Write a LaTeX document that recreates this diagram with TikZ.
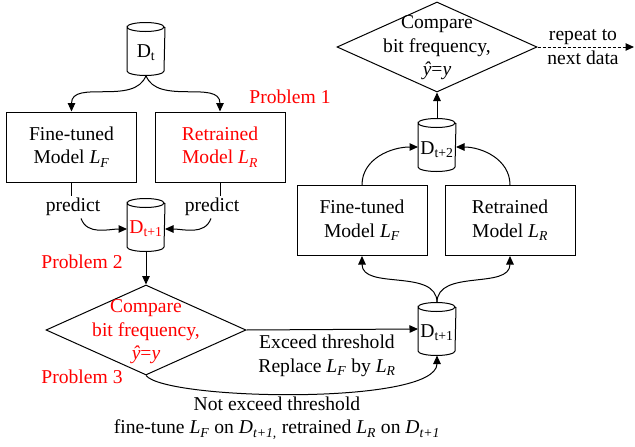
\documentclass[tikz,border=0pt]{standalone}
\usepackage{fontspec}
\setmainfont{Liberation Serif}
\usetikzlibrary{shapes.geometric,arrows.meta,calc}
\newcommand\myL[1]{\textit{L}\textsubscript{\textit{#1}}}
\newcommand\myD[1]{D\textsubscript{#1}}
\newcommand\myDi[1]{\textit{D}\textsubscript{\textit{#1}}}
\newcommand\cylout[1]{\draw ([yshift=-4.5pt]#1.north west) arc[start angle=180,end angle=0,x radius=18.5pt,y radius=4.5pt] arc[start angle=0,end angle=-180,x radius=18.5pt,y radius=4.5pt] -- ([yshift=4.5pt]#1.south west) arc[start angle=180,end angle=360,x radius=18.5pt,y radius=4.5pt] -- ([yshift=-4.5pt]#1.north east);}
\begin{document}
\begin{tikzpicture}[x=1pt,y=1pt,line width=1pt,
  font=\fontsize{19.6}{23.5}\selectfont,
  every node/.style={inner sep=2pt},
  box/.style={draw, rectangle, minimum width=130pt, minimum height=70pt, align=center, inner sep=0pt},
  cyl/.style={rectangle, minimum width=37pt, minimum height=52pt, inner sep=0pt},
  dia/.style={draw, diamond, minimum width=200pt, minimum height=90pt, inner sep=0pt},
  arr/.style={-{Triangle[length=8.5pt,width=7.5pt]}}]
\useasboundingbox (0,0) rectangle (635,-447);
% left part
\node[cyl] (dt) at (146,-49) {};
\node (dtT) at (146,-53) {\myD{t}};
\node[box] (lf1) at (71.5,-147) {Fine-tuned\\Model \myL{F}};
\node[box, text=red] (lr1) at (220,-147) {Retrained\\Model \myL{R}};
\node[text=red] (p1) at (290,-97) {Problem 1};
\node[cyl] (da) at (146,-225) {};
\node[text=red] (daT) at (146,-229) {\myD{t+1}};
\node (pl) at (73,-207) {predict};
\node (pr) at (212,-207) {predict};
\node[text=red] (p2) at (82,-262) {Problem 2};
\node[dia] (d1) at (146,-330) {};
\node[text=red, align=center] (d1T) at (146,-332) {Compare\\bit frequency,\\\textit{ŷ}=\textit{y}};
\node[text=red] (p3) at (82,-377) {Problem 3};
\node[cyl] (db) at (437,-329) {};
\node (dbT) at (437,-333) {\myD{t+1}};
\node[align=center] (ex) at (327,-356) {Exceed threshold\\Replace \myL{F} by \myL{R}};
\node[align=center] (nx) at (277,-418) {Not exceed threshold\\fine-tune \myL{F} on \myDi{t+1,} retrained \myL{R} on \myDi{t+1}};
% right part
\node[box] (lf2) at (362,-220.5) {Fine-tuned\\Model \myL{F}};
\node[box] (lr2) at (510,-220.5) {Retrained\\Model \myL{R}};
\node[cyl] (dc) at (437,-145) {};
\node (dcT) at (437,-150) {\myD{t+2}};
\node[dia] (d2) at (437,-47) {};
\node[align=center] (d2T) at (437,-48) {Compare\\bit frequency,\\\textit{ŷ}=\textit{y}};
\node[align=center] (rep) at (583,-47) {repeat to\\next data};
\coordinate (end) at (634,-47);
% cylinders
\cylout{dt}
\cylout{da}
\cylout{db}
\cylout{dc}
% connectors
\draw[arr] (dt.south) to[out=-110,in=90] (lf1.north);
\draw[arr] (dt.south) to[out=-70,in=90] (lr1.north);
\draw (lf1.south) -- (lf1.south |- pl.north);
\draw[arr] ([xshift=8pt]pl.south) to[out=-70,in=180] ([yshift=-4pt]da.west);
\draw (lr1.south) -- (lr1.south |- pr.north);
\draw[arr] ([xshift=-1pt]pr.south) to[out=-110,in=0] ([yshift=-4pt]da.east);
\draw[arr] (da.south) -- (d1.north);
\draw[arr] (d1.east) -- (db.west);
\draw[arr] (d1.south) .. controls +(20,-25) and +(0,-50) .. (db.south);
\draw[arr] (db.north) to[out=90,in=-90] (lf2.south);
\draw[arr] (db.north) to[out=90,in=-90] (lr2.south);
\draw[arr] (lf2.north) to[out=90,in=180] ([yshift=-2pt]dc.west);
\draw[arr] (lr2.north) to[out=90,in=0] ([yshift=-2pt]dc.east);
\draw[arr] (dc.north) -- (d2.south);
\draw[arr, dash pattern=on 3pt off 2pt] (d2.east) -- (end);
\end{tikzpicture}
\end{document}
